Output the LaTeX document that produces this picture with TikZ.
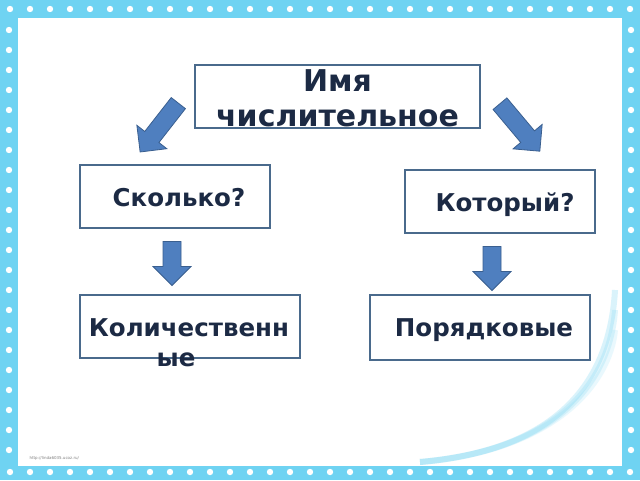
\documentclass[tikz,border=0pt]{standalone}
\usepackage{fontspec}
\setmainfont{DejaVu Sans}
\usetikzlibrary{shapes.arrows}
\definecolor{framecyan}{HTML}{6FD3F2}
\definecolor{boxline}{HTML}{4A6A8C}
\definecolor{txtnavy}{HTML}{1C2A44}
\definecolor{arrowblue}{HTML}{4F7FBF}
\definecolor{arrowedge}{HTML}{3A5F8F}
\tikzset{
  wordbox/.style={draw=boxline, line width=1.2pt, fill=white},
  wordtext/.style={text=txtnavy, font=\bfseries\fontsize{24.5}{28}\selectfont},
  blockarrow/.style={single arrow, draw=arrowedge, fill=arrowblue, line width=0.8pt,
    minimum height=62pt, minimum width=38pt, single arrow head extend=6pt,
    single arrow tip angle=90, inner sep=5pt}
}
\begin{document}
\begin{tikzpicture}[x=1pt,y=-1pt]
\useasboundingbox (0,0) rectangle (640,480);
% frame
\fill[framecyan] (0,0) rectangle (640,480);
\foreach \i in {0,...,31}{
  \fill[white] (10+20*\i,9) circle (3.2);
  \fill[white] (10+20*\i,472) circle (3.2);
}
\foreach \j in {1,...,22}{
  \fill[white] (9,10+20*\j) circle (3.2);
  \fill[white] (631,10+20*\j) circle (3.2);
}
\fill[white] (18,18) rectangle (622,466);
% swirl
\foreach \r/\o in {160/0.25,180/0.2,200/0.15}{
  \draw[framecyan, opacity=\o, line width=6pt] (420,462) .. controls (560,450) and (610,380) .. (615,\r+130);
}
% boxes
\node[wordbox, minimum width=285pt, minimum height=63pt] (name) at (337.5,96.5) {};
\node[wordtext, font=\bfseries\fontsize{30}{35}\selectfont, align=center] (nametxt) at (337.5,98) {Имя\\числительное};
\node[wordbox, minimum width=190pt, minimum height=63pt] (howmany) at (175,196.5) {};
\node[wordtext] at (179,198) {Сколько?};
\node[wordbox, minimum width=190pt, minimum height=63pt] (which) at (500,201.5) {};
\node[wordtext] at (505,205) {Который?};
\node[wordbox, minimum width=220pt, minimum height=63pt] (card) at (190,326.5) {};
\node[wordtext] at (189,328) {Количественн};
\node[wordtext] at (176,360) {ые};
\node[wordbox, minimum width=220pt, minimum height=65pt] (ord) at (480,327.5) {};
\node[wordtext] at (484,330) {Порядковые};
% arrows
\node[blockarrow, rotate=-128] (al) at (162,124) {};
\node[blockarrow, rotate=-50] (ar) at (517,124) {};
\node[blockarrow, rotate=-90, minimum height=44pt] (dl) at (172,259) {};
\node[blockarrow, rotate=-90, minimum height=44pt] (dr) at (492,264) {};
\node[text=gray, font=\fontsize{4}{5}\selectfont, anchor=west] (url) at (26,458) {http://linda6035.ucoz.ru/};
\end{tikzpicture}
\end{document}
